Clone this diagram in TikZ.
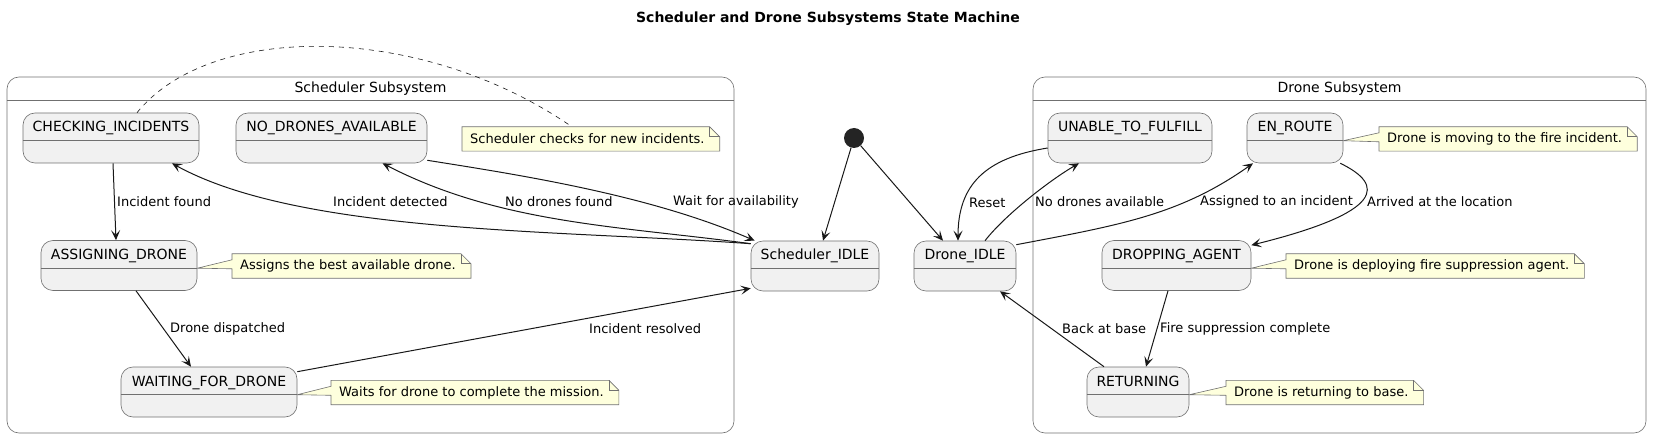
\documentclass[tikz,border=0pt]{standalone}
\usepackage{fontspec}
\setmainfont{DejaVu Sans}
\usetikzlibrary{arrows.meta}
\usetikzlibrary{backgrounds}

\definecolor{statefill}{HTML}{F1F1F1}
\definecolor{notefill}{HTML}{FEFFDD}
\definecolor{ink}{HTML}{181818}
\definecolor{rim}{HTML}{707070}

\begin{document}
\begin{tikzpicture}[x=1pt,y=-1pt,
    state/.style={draw=rim, line width=0.6pt, fill=statefill, rounded corners=12pt,
        minimum height=50pt, inner sep=0pt, text height=19pt, text depth=31pt,
        font=\fontsize{14}{16}\selectfont},
    cluster/.style={draw=rim, line width=0.6pt, rounded corners=12pt, minimum height=356pt},
    note/.style={anchor=west, minimum height=24pt, inner xsep=8pt, inner ysep=0pt, font=\fontsize{13}{15}\selectfont},
    notebg/.style={draw=rim, line width=0.6pt, fill=notefill},
    lbl/.style={anchor=west, inner sep=0pt, font=\fontsize{13}{15}\selectfont},
    trans/.style={draw=ink, line width=1pt, -{Stealth[length=10pt,width=9pt,inset=4.5pt]}}]
    \useasboundingbox (0,0) rectangle (1656,438);

    % title
    \node[font=\bfseries\fontsize{14}{16}\selectfont] (title) at (828,19) {Scheduler and Drone Subsystems State Machine};

    % draw the two subsystems
    \node[cluster, minimum width=727pt] (schedbox) at (370.5,255) {};
    \node[cluster, minimum width=613pt] (dronebox) at (1339.5,255) {};
    \draw[rim, line width=0.6pt] ([yshift=-24pt]schedbox.north west) -- ([yshift=-24pt]schedbox.north east);
    \draw[rim, line width=0.6pt] ([yshift=-24pt]dronebox.north west) -- ([yshift=-24pt]dronebox.north east);
    \node[font=\fontsize{14}{16}\selectfont] (schedname) at ([yshift=-12pt]schedbox.north) {Scheduler Subsystem};
    \node[font=\fontsize{14}{16}\selectfont] (dronename) at ([yshift=-12pt]dronebox.north) {Drone Subsystem};

    % states
    \node[state, minimum width=176pt] (chk) at (111,138) {CHECKING\_INCIDENTS};
    \node[state, minimum width=191pt] (nodr) at (331.5,138) {NO\_DRONES\_AVAILABLE};
    \node[state, minimum width=156pt] (asg) at (119,265.5) {ASSIGNING\_DRONE};
    \node[state, minimum width=176pt] (wait) at (209,392) {WAITING\_FOR\_DRONE};
    \node[state, minimum width=128pt] (sidle) at (815,266) {Scheduler\_IDLE};
    \node[state, minimum width=102pt] (didle) at (965,266) {Drone\_IDLE};
    \node[state, minimum width=164pt] (unable) at (1130,138) {UNABLE\_TO\_FULFILL};
    \node[state, minimum width=96pt] (enr) at (1295,138) {EN\_ROUTE};
    \node[state, minimum width=149pt] (drop) at (1176.5,265.5) {DROPPING\_AGENT};
    \node[state, minimum width=102pt] (ret) at (1138,392) {RETURNING};
    \foreach \s in {chk,nodr,asg,wait,sidle,didle,unable,enr,drop,ret}
        \draw[rim, line width=0.6pt] ([yshift=-28pt]\s.north west) -- ([yshift=-28pt]\s.north east);

    % initial point
    \node[circle, fill=ink!95, minimum size=20pt, inner sep=0pt] (init) at (854,138) {};

    % notes
    \node[note] (nchk) at (462,139) {Scheduler checks for new incidents.};
    \node[note] (nasg) at (232,266) {Assigns the best available drone.};
    \node[note] (nwait) at (331,392.5) {Waits for drone to complete the mission.};
    \node[note] (nenr) at (1379,139) {Drone is moving to the fire incident.};
    \node[note] (ndrop) at (1286,266) {Drone is deploying fire suppression agent.};
    \node[note] (nret) at (1226,392.5) {Drone is returning to base.};

    \begin{scope}[on background layer]
        \draw[notebg] (nchk.north west) -- ([xshift=-3pt]nchk.north east) -- ([xshift=7pt,yshift=-10pt]nchk.north east)
            -- ([xshift=7pt]nchk.south east) -- (nchk.south west) -- cycle;
        \draw[rim, line width=0.6pt] ([xshift=-3pt]nchk.north east) -- ([xshift=-3pt,yshift=-10pt]nchk.north east) -- ([xshift=7pt,yshift=-10pt]nchk.north east);
        \foreach \n/\s in {nasg/asg,nwait/wait,nenr/enr,ndrop/drop,nret/ret} {
            \draw[notebg] (\n.north west) -- ([xshift=-3pt]\n.north east) -- ([xshift=7pt,yshift=-10pt]\n.north east)
                -- ([xshift=7pt]\n.south east) -- (\n.south west) -- ([yshift=-15pt]\n.north west)
                -- ([yshift=-28pt]\s.north east) -- ([yshift=-6pt]\n.north west) -- cycle;
            \draw[rim, line width=0.6pt] ([xshift=-3pt]\n.north east) -- ([xshift=-3pt,yshift=-10pt]\n.north east) -- ([xshift=7pt,yshift=-10pt]\n.north east);
        }
    \end{scope}

    % note link
    \draw[ink, line width=0.6pt, dash pattern=on 5pt off 5pt] ([xshift=26pt]chk.north) .. controls (210,22) and (420,22) .. ([xshift=110pt]nchk.north west);

    % transitions in the scheduler
    \draw[trans] ([xshift=2pt]chk.south) -- ([xshift=-3pt]asg.north);
    \draw[trans] ([xshift=17pt]asg.south) -- ([xshift=-18pt]wait.north);
    \draw[trans] ([yshift=-5pt]wait.north east) -- ([yshift=3pt]sidle.south west);
    \draw[trans] ([yshift=-3pt]sidle.north west) .. controls (560,230) and (300,234) .. ([xshift=61pt]chk.south);
    \draw[trans] ([yshift=-3pt]sidle.north west) .. controls (620,226) and (500,224) .. ([xshift=51pt]nodr.south);
    \draw[trans] ([yshift=3pt]nodr.south east) .. controls (520,175) and (650,195) .. ([xshift=4pt]sidle.north west);

    % start
    \draw[trans] (init) -- ([xshift=8pt]sidle.north);
    \draw[trans] (init) -- ([xshift=-22pt]didle.north);

    % transitions in the drone
    \draw[trans] ([yshift=-10pt]unable.west) .. controls (985,158) and (958,185) .. ([xshift=-7pt]didle.north);
    \draw[trans] ([xshift=20pt]didle.north) .. controls (1005,215) and (1050,180) .. ([xshift=-51pt]unable.south);
    \draw[trans] ([yshift=-4pt]didle.north east) .. controls (1120,225) and (1180,215) .. ([xshift=-42pt]enr.south);
    \draw[trans] ([xshift=-3pt]enr.south east) .. controls (1385,185) and (1385,212) .. ([yshift=-5pt]drop.north east);
    \draw[trans] ([xshift=-8.5pt]drop.south) -- ([xshift=8pt]ret.north);
    \draw[trans] ([xshift=-34pt]ret.north) -- ([xshift=35pt]didle.south);

    % labels
    \node[lbl] (lfound) at (117,202) {Incident found};
    \node[lbl] (ldetect) at (333,202) {Incident detected};
    \node[lbl] (lnofound) at (505,202) {No drones found};
    \node[lbl] (lwait) at (673,202) {Wait for availability};
    \node[lbl] (ldisp) at (170,329) {Drone dispatched};
    \node[lbl] (lresolv) at (589,329) {Incident resolved};
    \node[lbl] (lreset) at (969,203) {Reset};
    \node[lbl] (lnoavail) at (1035,202) {No drones available};
    \node[lbl] (lassign) at (1200,202) {Assigned to an incident};
    \node[lbl] (larrive) at (1367,202) {Arrived at the location};
    \node[lbl] (lback) at (1062,329) {Back at base};
    \node[lbl] (lfire) at (1160,329) {Fire suppression complete};
\end{tikzpicture}
\end{document}
